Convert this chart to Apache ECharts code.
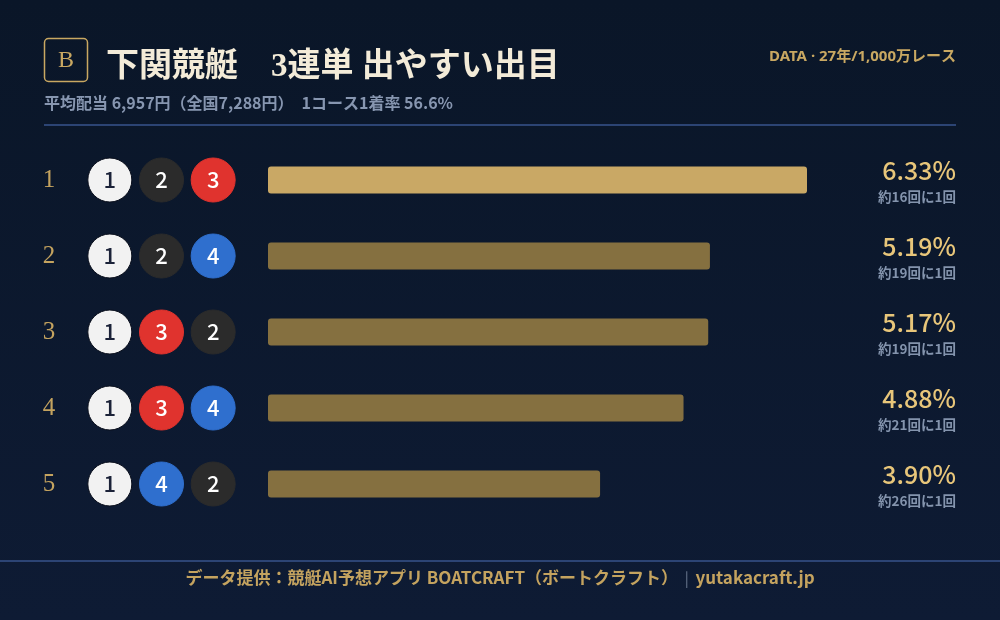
<!DOCTYPE html>
<html><head><meta charset="utf-8">
<script src="https://cdn.jsdelivr.net/npm/echarts@6/dist/echarts.min.js"></script>
<style>
html,body{margin:0;padding:0;background:#0b1629;}
#c{width:1000px;height:620px;background:linear-gradient(180deg,#0a1628 0%,#0e1b34 100%);}
</style></head>
<body><div id="c"></div>
<script>
const ranks = ['1','2','3','4','5'];
const places = ['1着','2着','3着'];
const combos = [[1,2,3],[1,2,4],[1,3,2],[1,3,4],[1,4,2]];
const rates = [6.33,5.19,5.17,4.88,3.90];
const freqLabels = ['約16回に1回','約19回に1回','約19回に1回','約21回に1回','約26回に1回'];
const titleText = '下関競艇　3連単 出やすい出目';
const subText = '平均配当 6,957円（全国7,288円）　1コース1着率 56.6%';
const dataText = 'DATA · 27年/1,000万レース';
const footMain = 'データ提供：競艇AI予想アプリ BOATCRAFT（ボートクラフト）';
const footSite = 'yutakacraft.jp';

const boatFill = {1:'#f2f2f2',2:'#2b2b2b',3:'#e0332e',4:'#2f6fce'};
const boatText = {1:'#1b2238',2:'#ffffff',3:'#ffffff',4:'#ffffff'};
const SANS = '"Noto Sans CJK JP","Noto Sans",sans-serif';
const SANS_L = '"Noto Sans","Noto Sans CJK JP",sans-serif';
const SERIF = '"Liberation Serif","DejaVu Serif","Noto Sans CJK JP",serif';

const scatterData = [];
combos.forEach((c, r) => c.forEach((b, p) => {
  scatterData.push({
    value: [p, r, b],
    itemStyle: {color: boatFill[b], opacity: 1, borderColor: b === 1 ? '#0a0f1c' : boatFill[b], borderWidth: 1},
    label: {color: boatText[b]}
  });
}));

const chart = echarts.init(document.getElementById('c'), null, {renderer: 'canvas'});
chart.setOption({
  backgroundColor: 'transparent',
  animation: false,
  grid: [
    {left: 268, width: 539, top: 142, height: 380},
    {left: 84, width: 155, top: 142, height: 380}
  ],
  xAxis: [
    {gridIndex: 0, type: 'value', min: 0, max: 6.33, show: false},
    {gridIndex: 1, type: 'category', data: places, show: false}
  ],
  yAxis: [
    {gridIndex: 0, type: 'category', data: ranks, inverse: true, show: false},
    {gridIndex: 0, type: 'category', data: ranks, inverse: true, position: 'right',
     axisLine: {show: false}, axisTick: {show: false},
     axisLabel: {
       margin: 149, align: 'right',
       formatter: (v, i) => '{v|' + rates[i].toFixed(2) + '%}\n{s|' + freqLabels[i] + '}',
       rich: {
         v: {fontFamily: SANS, fontSize: 25, fontWeight: 500, color: '#e8c67a', lineHeight: 28, align: 'right'},
         s: {fontFamily: SANS, fontSize: 13.5, fontWeight: 'bold', color: '#8494ad', lineHeight: 20, padding: [6,0,0,0], align: 'right'}
       }
     }},
    {gridIndex: 1, type: 'category', data: ranks, inverse: true,
     axisLine: {show: false}, axisTick: {show: false},
     axisLabel: {margin: 35, align: 'center', fontFamily: SERIF, fontSize: 25, color: '#c4a35f', padding: [8,0,0,0]}}
  ],
  series: [
    {type: 'bar', xAxisIndex: 0, yAxisIndex: 0, barWidth: 27,
     data: rates.map((v, i) => ({value: v, itemStyle: {color: i === 0 ? '#c9a865' : '#857040', borderRadius: 3}}))},
    {type: 'scatter', xAxisIndex: 1, yAxisIndex: 2, symbolSize: 44,
     data: scatterData,
     label: {show: true, position: 'inside', formatter: p => String(p.value[2]), fontFamily: SANS, fontSize: 22, fontWeight: 500}}
  ],
  graphic: [
    {type: 'rect', shape: {x: 44.5, y: 38.5, width: 43, height: 43, r: 4}, style: {fill: 'none', stroke: '#c9a862', lineWidth: 1.5}},
    {type: 'text', x: 66, y: 61, style: {text: 'B', fontFamily: SERIF, fontSize: 24, fill: '#c9a862', align: 'center', verticalAlign: 'middle'}},
    {type: 'text', x: 106, y: 67, style: {text: titleText, fontFamily: SERIF, fontSize: 33, fontWeight: 'bold', fill: '#f3ebd8', verticalAlign: 'middle'}},
    {type: 'text', x: 44, y: 103, style: {text: subText, fontFamily: SANS, fontSize: 16, fontWeight: 'bold', fill: '#8796b0', verticalAlign: 'middle'}},
    {type: 'text', x: 956, y: 57, style: {text: dataText, fontFamily: SANS_L, fontSize: 15, fontWeight: 'bold', fill: '#c9a862', align: 'right', verticalAlign: 'middle'}},
    {type: 'line', shape: {x1: 44, y1: 125, x2: 956, y2: 125}, style: {stroke: '#2c4474', lineWidth: 2}},
    {type: 'line', shape: {x1: 0, y1: 561, x2: 1000, y2: 561}, style: {stroke: '#2c4474', lineWidth: 2}},
    {type: 'text', x: 500, y: 578, style: {
      text: '{a|' + footMain + '}{g|  |  }{a|' + footSite + '}',
      align: 'center', verticalAlign: 'middle',
      rich: {
        a: {fontFamily: SANS, fontSize: 17, fontWeight: 'bold', fill: '#c4a35f', color: '#c4a35f'},
        g: {fontFamily: SANS, fontSize: 15, fill: '#6b7890', color: '#6b7890'}
      }}}
  ]
});
</script></body></html>
